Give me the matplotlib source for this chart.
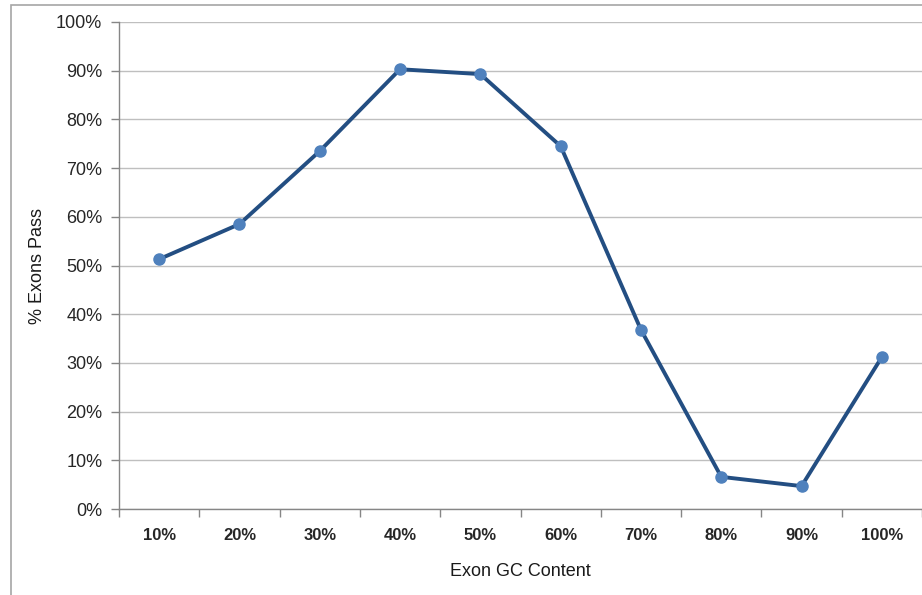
import matplotlib.pyplot as plt
from matplotlib.patches import Rectangle
from matplotlib.ticker import FixedLocator, MultipleLocator, FuncFormatter

# GC content bins and the share of exons that pass in each
gc_bins = ["10%", "20%", "30%", "40%", "50%", "60%", "70%", "80%", "90%", "100%"]
pct_pass = [51.3, 58.5, 73.5, 90.3, 89.3, 74.5, 36.8, 6.6, 4.7, 31.2]

plt.rcParams['font.family'] = ['Liberation Sans Narrow', 'Liberation Sans', 'DejaVu Sans']

fig = plt.figure(figsize=(9.22, 5.95), dpi=100)
ax = fig.add_axes([119 / 922, 1 - 509 / 595, 803 / 922, 487 / 595])

# outer chart frame
fig.patches.append(Rectangle((11 / 922, -0.1), 1.2, 1 - 5 / 595 + 0.1,
                             transform=fig.transFigure, fill=False,
                             edgecolor="#a6a6a6", linewidth=1.2))

x = list(range(len(gc_bins)))
ax.plot(x, pct_pass, color="#234e82", linewidth=2.8, marker="o",
        markersize=8, markerfacecolor="#4f81bd", markeredgecolor="#4f81bd",
        zorder=3)

ax.set_xlim(-0.5, len(gc_bins) - 0.5)
ax.set_ylim(0, 100)
ax.yaxis.set_major_locator(MultipleLocator(10))
ax.yaxis.set_major_formatter(FuncFormatter(lambda v, p: f"{v:.0f}%"))
ax.set_xticks(x)
ax.set_xticklabels(gc_bins, fontsize=12, fontweight="bold", color="#262626")
ax.xaxis.set_minor_locator(FixedLocator([i - 0.5 for i in range(len(gc_bins) + 1)]))
ax.tick_params(axis="x", which="major", length=0, pad=14)
ax.tick_params(axis="x", which="minor", length=6, color="#868686", width=1)
ax.tick_params(axis="y", length=6, color="#868686", width=1, labelsize=13,
               labelcolor="#262626", pad=6)

ax.grid(axis="y", color="#bfbfbf", linewidth=1)
ax.set_axisbelow(True)
for side in ["top", "right"]:
    ax.spines[side].set_visible(False)
for side in ["left", "bottom"]:
    ax.spines[side].set_color("#868686")
    ax.spines[side].set_linewidth(1)

ax.set_ylabel("% Exons Pass", fontsize=13, color="#1a1a1a", va="center")
ax.set_xlabel("Exon GC Content", fontsize=13, color="#1a1a1a", va="center")
ax.yaxis.set_label_coords(-0.101, 0.5)
ax.xaxis.set_label_coords(0.5, -0.129)

fig.savefig("out.png", dpi=100)
